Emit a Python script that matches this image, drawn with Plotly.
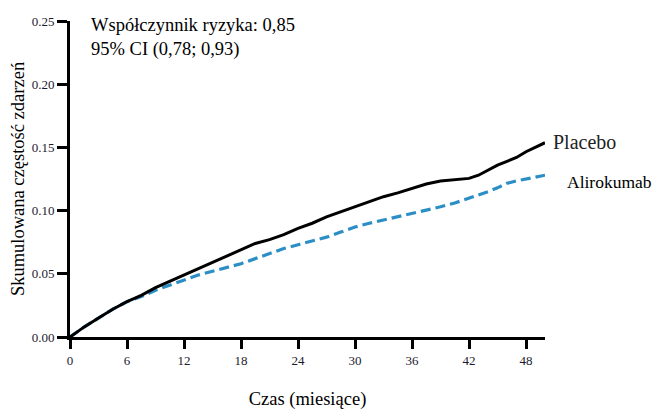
import plotly.graph_objects as go

months = [0, 1.5, 3, 4.5, 6, 7.5, 9, 10.5, 12, 13.5, 15, 16.5, 18, 19.5, 21, 22.5, 24, 25.5, 27, 28.5, 30, 31.5, 33, 34.5, 36, 37.5, 39, 40.5, 42, 43, 44, 45, 46, 47, 48, 49, 50]
placebo = [0.0, 0.008, 0.015, 0.022, 0.028, 0.033, 0.039, 0.044, 0.049, 0.054, 0.059, 0.064, 0.069, 0.074, 0.077, 0.081, 0.086, 0.090, 0.095, 0.099, 0.103, 0.107, 0.111, 0.114, 0.1176, 0.121, 0.1234, 0.1245, 0.1255, 0.128, 0.132, 0.136, 0.139, 0.142, 0.1466, 0.150, 0.1537]
alirokumab = [0.0, 0.008, 0.015, 0.022, 0.028, 0.032, 0.037, 0.041, 0.045, 0.049, 0.052, 0.055, 0.058, 0.062, 0.066, 0.070, 0.073, 0.076, 0.079, 0.083, 0.087, 0.090, 0.0926, 0.095, 0.098, 0.100, 0.103, 0.106, 0.1097, 0.112, 0.115, 0.118, 0.1216, 0.1235, 0.125, 0.1265, 0.128]

x_ticks = [0, 6, 12, 18, 24, 30, 36, 42, 48]
y_ticks = [0.00, 0.05, 0.10, 0.15, 0.20, 0.25]
y_tick_labels = ["0.00", "0.05", "0.10", "0.15", "0.20", "0.25"]

serif = "Liberation Serif"

fig = go.Figure()
fig.add_trace(go.Scatter(x=months, y=alirokumab, mode="lines",
                         line=dict(color="#2b8fc6", width=3.2, dash="10px,5px"),
                         name="Alirokumab", showlegend=False, cliponaxis=False))
fig.add_trace(go.Scatter(x=months, y=placebo, mode="lines",
                         line=dict(color="#000000", width=3),
                         name="Placebo", showlegend=False, cliponaxis=False))

fig.add_annotation(x=1.017, y=0.618, xref="paper", yref="paper", text="Placebo",
                   showarrow=False, xanchor="left", yanchor="middle", xshift=-2,
                   font=dict(family=serif, size=20, color="#222"))
fig.add_annotation(x=1.052, y=0.4915, xref="paper", yref="paper", text="Alirokumab",
                   showarrow=False, xanchor="left", yanchor="middle", xshift=-5,
                   font=dict(family=serif, size=17.5, color="#000"))
fig.add_annotation(x=0.044, y=1.024, xref="paper", yref="paper",
                   text="Współczynnik ryzyka: 0,85<br>95% CI (0,78; 0,93)",
                   showarrow=False, xanchor="left", yanchor="top", align="left", xshift=-2,
                   font=dict(family=serif, size=18.5, color="#000"))

fig.update_layout(
    width=654, height=402,
    margin=dict(l=62, r=117, t=13, b=73),
    plot_bgcolor="white", paper_bgcolor="white",
    xaxis=dict(range=[0, 50], tickvals=x_ticks, ticktext=[str(v) for v in x_ticks],
               showgrid=False, zeroline=False, showline=True, linecolor="black", linewidth=3,
               ticks="outside", ticklen=9, tickwidth=3, tickcolor="black", automargin=False,
               tickfont=dict(family=serif, size=13, color="#1a1a2e"),
               title=dict(text="Czas (miesiące)", font=dict(family=serif, size=18.5, color="#000"),
                          standoff=32)),
    yaxis=dict(range=[0, 0.25], tickvals=y_ticks, ticktext=y_tick_labels,
               showgrid=False, zeroline=False, showline=True, linecolor="black", linewidth=3,
               ticks="outside", ticklen=10, tickwidth=3, tickcolor="black", automargin=False,
               tickfont=dict(family=serif, size=13, color="#1a1a2e"),
               title=dict(text="Skumulowana częstość zdarzeń", font=dict(family=serif, size=18.5, color="#000"),
                          standoff=6)),
)

fig.write_html("out.html")
